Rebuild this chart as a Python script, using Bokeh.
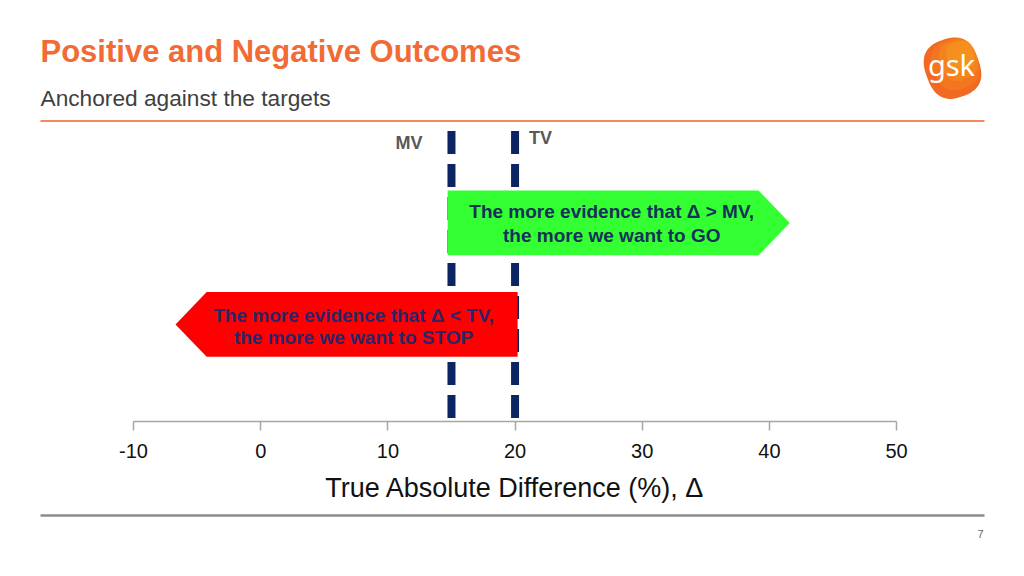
import numpy as np
from bokeh.plotting import figure
from bokeh.layouts import column
from bokeh.models import Range1d, FixedTicker
from bokeh.core.properties import value
from bokeh.embed import file_html
from bokeh.resources import INLINE

# ---------------- data ----------------
tick_values = [-10, 0, 10, 20, 30, 40, 50]
tick_labels = ["-10", "0", "10", "20", "30", "40", "50"]
axis_bounds = (-10, 50)
threshold_names = ["MV", "TV"]
threshold_values = [15, 20]
go_arrow = [14.7, 41.6]      # start, tip  (Δ units)
stop_arrow = [20.2, -6.7]    # start, tip  (Δ units)
go_text = ["The more evidence that Δ > MV,", "the more we want to GO"]
stop_text = ["The more evidence that Δ < TV,", "the more we want to STOP"]
go_text_x = 27.6
stop_text_x = 7.3
title = "Positive and Negative Outcomes"
subtitle = "Anchored against the targets"
x_label = "True Absolute Difference (%), Δ"
page_number = "7"
logo_text = "gsk"

# ---------------- style ----------------
FONT = "Liberation Sans"
W = 1008
LEFT = 21
TOP_H = 505
FOOT_H = 63
ORANGE = "#f26b35"
NAVY = "#0c2461"
HEAD = 2.45

p = figure(width=W, height=TOP_H,
           x_range=Range1d(-18.81, 58.80), y_range=Range1d(423, 0),
           y_axis_location=None, toolbar_location=None, output_backend="svg",
           min_border_left=LEFT, min_border_right=0, min_border_top=0,
           min_border_bottom=82, outline_line_color=None,
           background_fill_color="white", border_fill_color="white")
p.extra_x_ranges = {"px": Range1d(LEFT, 1008)}
p.grid.visible = False

# header
p.text(x=[40], y=[51.5], text=[title], x_range_name="px",
       text_font=value(FONT), text_font_size="31px", text_font_style="bold",
       text_color=ORANGE, text_align="left", text_baseline="middle")
p.text(x=[40], y=[98], text=[subtitle], x_range_name="px",
       text_font=value(FONT), text_font_size="22.7px",
       text_color="#404040", text_align="left", text_baseline="middle")
p.segment(x0=[40], x1=[984], y0=[121], y1=[121], x_range_name="px",
          line_color="#f5895b", line_width=2)

# logo (layered to suggest the orange-to-amber gradient)
t = np.linspace(0, 2 * np.pi, 120)
n = 2.6
ang = np.deg2rad(-20)
layers = [(1.0, 0, 0, "#f26a21", 1.0), (0.85, 3, -4, "#f47a20", 0.7),
          (0.68, 6, -8, "#f58a1f", 0.6), (0.5, 8, -12, "#f79c1d", 0.5)]
for s, dx, dy, col, a in layers:
    u = np.sign(np.cos(t)) * np.abs(np.cos(t)) ** (2 / n) * 27 * s
    v = np.sign(np.sin(t)) * np.abs(np.sin(t)) ** (2 / n) * 30 * s
    lx = 952 + dx + u * np.cos(ang) - v * np.sin(ang)
    ly = 68 + dy + u * np.sin(ang) + v * np.cos(ang)
    p.patch(x=lx, y=ly, x_range_name="px", fill_color=col, fill_alpha=a,
            line_color=None)
p.text(x=[951], y=[64], text=[logo_text], x_range_name="px",
       text_font=value("Noto Sans"), text_font_size="29px",
       text_color="white", text_align="center", text_baseline="middle")

# threshold lines
p.segment(x0=threshold_values, x1=threshold_values, y0=[131, 131], y1=[423, 423],
          line_color=NAVY, line_width=8, line_dash="23 10")
p.text(x=[threshold_values[0]], y=[142.7], text=[threshold_names[0]],
       x_offset=-29, text_font=value(FONT), text_font_size="18px",
       text_font_style="bold", text_color="#595959",
       text_align="right", text_baseline="middle")
p.text(x=[threshold_values[1]], y=[137.7], text=[threshold_names[1]],
       x_offset=14, text_font=value(FONT), text_font_size="18px",
       text_font_style="bold", text_color="#595959",
       text_align="left", text_baseline="middle")

# arrows
gs, ge = go_arrow
ss, se = stop_arrow
p.patch(x=[gs, ge - HEAD, ge, ge - HEAD, gs], y=[191, 191, 223.5, 256, 256],
        fill_color="#33ff33", line_color=None)
p.patch(x=[ss, se + HEAD, se, se + HEAD, ss], y=[293, 293, 325.5, 358, 358],
        fill_color="#ff0000", line_color=None)
p.text(x=[go_text_x, go_text_x], y=[212, 236.3], text=go_text,
       text_font=value(FONT), text_font_size="19px", text_font_style="bold",
       text_color="#15305a", text_align="center", text_baseline="middle")
p.text(x=[stop_text_x, stop_text_x], y=[316.3, 338.6], text=stop_text,
       text_font=value(FONT), text_font_size="19px", text_font_style="bold",
       text_color="#2a2669", text_align="center", text_baseline="middle")

# axis
ax = p.xaxis[0]
ax.bounds = axis_bounds
ax.ticker = FixedTicker(ticks=tick_values)
ax.major_label_overrides = {v_: l_ for v_, l_ in zip(tick_values, tick_labels)}
ax.axis_line_color = "#a6a6a6"
ax.axis_line_width = 1.5
ax.major_tick_line_color = "#a6a6a6"
ax.major_tick_line_width = 1.5
ax.major_tick_in = 0
ax.major_tick_out = 9
ax.minor_tick_line_color = None
ax.major_label_text_font = FONT
ax.major_label_text_font_size = "20px"
ax.major_label_text_color = "#111111"
ax.major_label_standoff = 13
ax.axis_label = x_label
ax.axis_label_text_font = FONT
ax.axis_label_text_font_size = "27px"
ax.axis_label_text_font_style = "normal"
ax.axis_label_text_color = "#111111"
ax.axis_label_standoff = 12

# footer (frame aligned with the chart frame)
f = figure(width=W, height=FOOT_H, x_range=Range1d(LEFT, 1008), y_range=Range1d(568, 505),
           x_axis_location=None, y_axis_location=None, toolbar_location=None,
           output_backend="svg", min_border=0, min_border_left=LEFT,
           outline_line_color=None,
           background_fill_color="white", border_fill_color="white")
f.grid.visible = False
f.segment(x0=[40], x1=[984], y0=[515], y1=[515], line_color="#8c8c8c", line_width=2.5)
f.text(x=[983], y=[533.5], text=[page_number], text_font=value(FONT),
       text_font_size="11px", text_color="#666666",
       text_align="right", text_baseline="middle")

layout = column(p, f, spacing=0)
open("out.html", "w").write(file_html(layout, INLINE))
